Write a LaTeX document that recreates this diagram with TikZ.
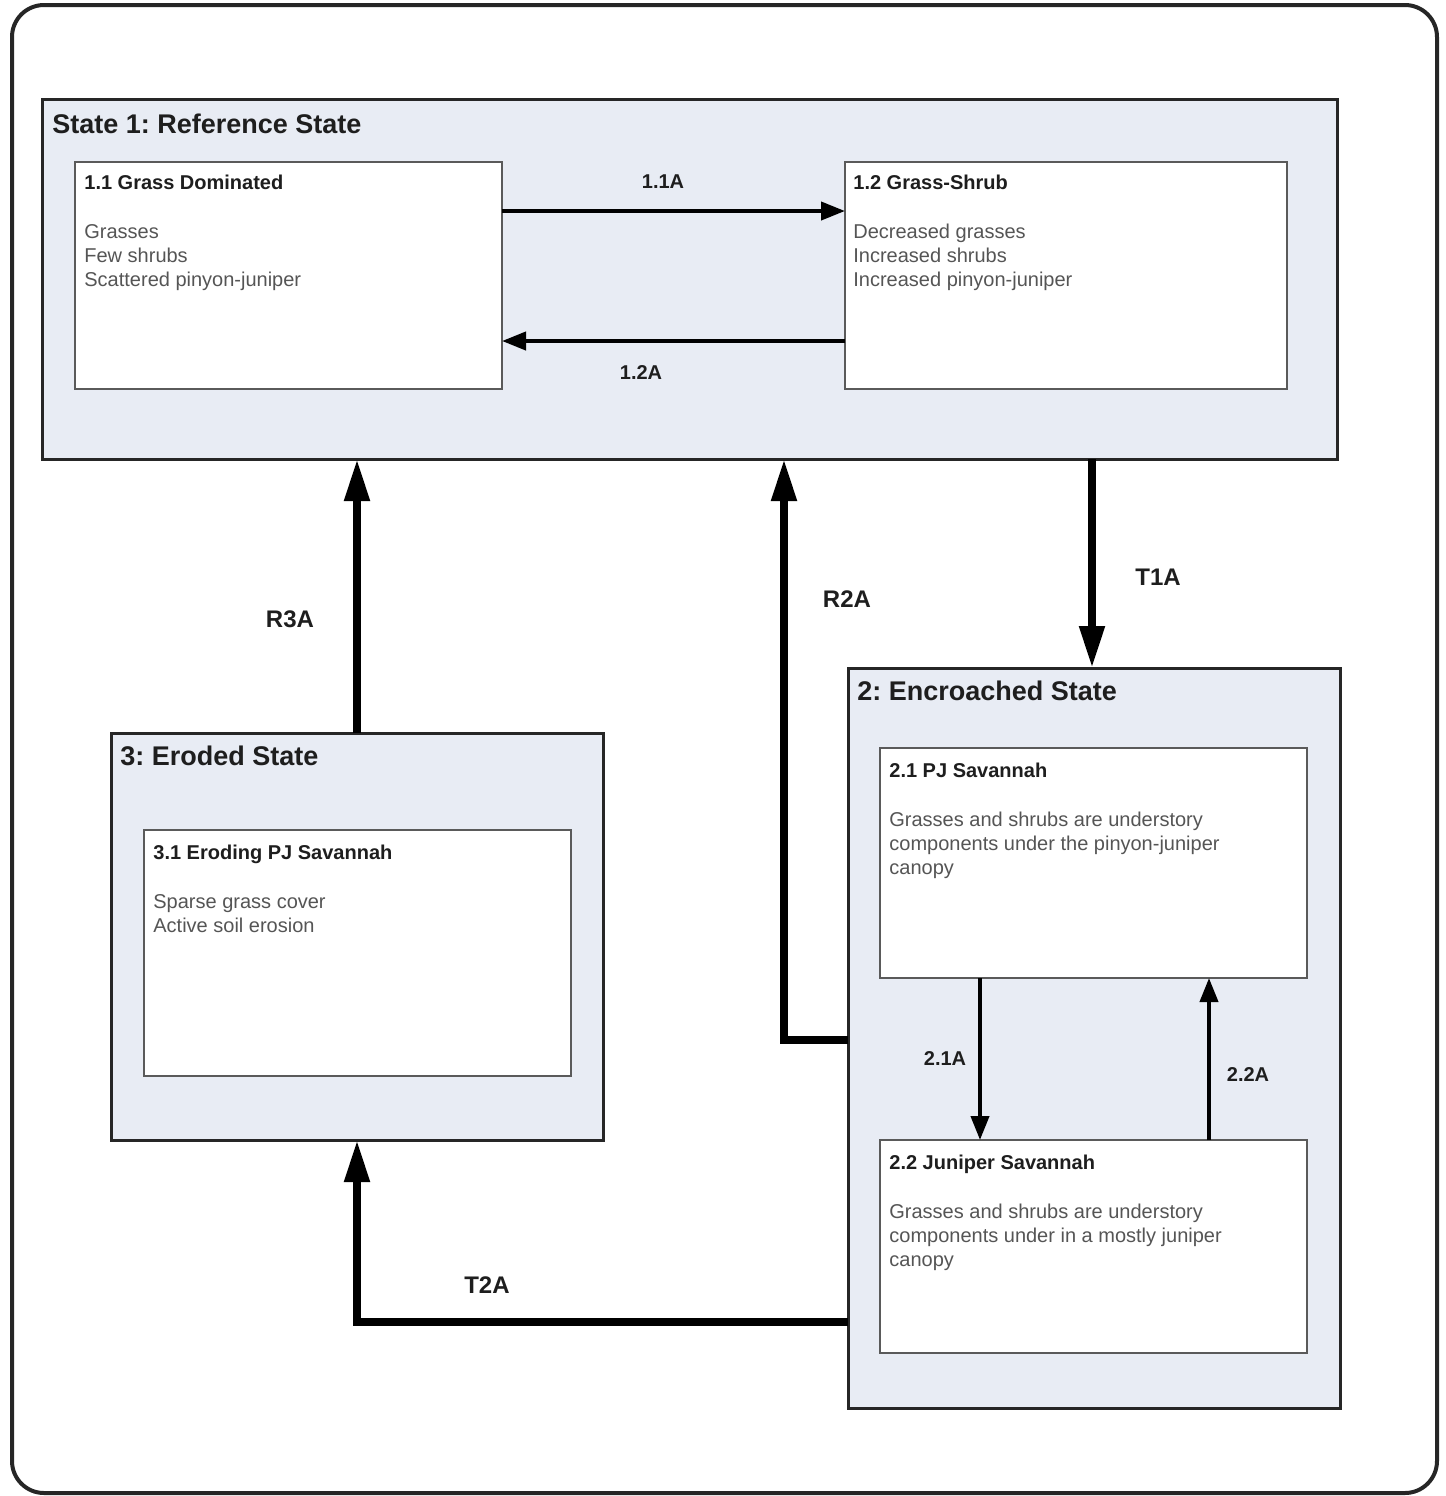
\documentclass[tikz,border=0pt]{standalone}
\usepackage{fontspec}
\setmainfont{Liberation Sans}
\usetikzlibrary{arrows.meta,calc}
\definecolor{statefill}{RGB}{232,236,244}
\definecolor{bodygrey}{RGB}{85,85,85}
\definecolor{titlegrey}{RGB}{30,30,30}
\definecolor{boxedge}{RGB}{90,90,90}
\frenchspacing
\begin{document}
\begin{tikzpicture}[x=0.5pt,y=-0.5pt,
  statebox/.style={draw=black!85,line width=1.5pt,fill=statefill,anchor=north west,inner sep=0pt,outer sep=0pt},
  phasebox/.style={draw=boxedge,line width=1pt,fill=white,anchor=north west,inner sep=0pt,outer sep=0pt},
  statetitle/.style={anchor=base west,inner sep=0pt,font=\fontsize{13.5}{16}\selectfont\bfseries,text=titlegrey},
  phasetitle/.style={anchor=base west,inner sep=0pt,font=\fontsize{10}{12}\selectfont\bfseries,text=titlegrey},
  phasebody/.style={anchor=north west,inner sep=0pt,align=left,font=\fontsize{10}{12}\selectfont,text=bodygrey},
  smalllabel/.style={inner sep=0pt,font=\fontsize{10}{12}\selectfont\bfseries,text=titlegrey},
  biglabel/.style={inner sep=0pt,font=\fontsize{12}{14}\selectfont\bfseries,text=titlegrey},
  thinarrow/.style={line width=2pt,-{Triangle[length=12pt,width=9pt]}},
  thickarrow/.style={line width=4pt,line join=miter,-{Triangle[length=21pt,width=12pt]}}
]
\useasboundingbox (0,0) rectangle (1446,1496);
% outer frame
\draw[line width=2pt,draw=black!85,rounded corners=16pt] (12,5) rectangle (1437,1493);

% State 1
\node[statebox,minimum width=647.5pt,minimum height=180pt] (s1) at (42,99) {};
\node[statetitle] (s1t) at (52,133) {State 1: Reference State};
\node[phasebox,minimum width=213.5pt,minimum height=113.5pt] (b11) at (75,162) {};
\node[phasetitle] (b11t) at (84,189) {1.1 Grass Dominated};
\node[phasebody] (b11b) at (84,224) {Grasses\\Few shrubs\\Scattered pinyon-juniper};
\node[phasebox,minimum width=221pt,minimum height=113.5pt] (b12) at (845,162) {};
\node[phasetitle] (b12t) at (853,189) {1.2 Grass-Shrub};
\node[phasebody] (b12b) at (853,224) {Decreased grasses\\Increased shrubs\\Increased pinyon-juniper};

% State 2
\node[statebox,minimum width=246pt,minimum height=370pt] (s2) at (848,668) {};
\node[statetitle] (s2t) at (857,700) {2: Encroached State};
\node[phasebox,minimum width=213.5pt,minimum height=115pt] (b21) at (880,748) {};
\node[phasetitle] (b21t) at (889,777) {2.1 PJ Savannah};
\node[phasebody] (b21b) at (889,812) {Grasses and shrubs are understory\\components under the pinyon-juniper\\canopy};
\node[phasebox,minimum width=213.5pt,minimum height=106.5pt] (b22) at (880,1140) {};
\node[phasetitle] (b22t) at (889,1169) {2.2 Juniper Savannah};
\node[phasebody] (b22b) at (889,1204) {Grasses and shrubs are understory\\components under in a mostly juniper\\canopy};

% State 3
\node[statebox,minimum width=246pt,minimum height=203.5pt] (s3) at (111,733) {};
\node[statetitle] (s3t) at (120,765) {3: Eroded State};
\node[phasebox,minimum width=213.5pt,minimum height=123pt] (b31) at (144,830) {};
\node[phasetitle] (b31t) at (153,859) {3.1 Eroding PJ Savannah};
\node[phasebody] (b31b) at (153,894) {Sparse grass cover\\Active soil erosion};

% helper coordinates
\coordinate (a11) at (0,211);
\coordinate (a12) at (0,341);
\coordinate (a21) at (980,0);
\coordinate (a22) at (1209,0);
\coordinate (t1a) at (1092,0);
\coordinate (r2a) at (784,1040);
\coordinate (t2a) at (357,1322);

% within-state arrows
\draw[thinarrow] (b11.east |- a11) -- (b12.west |- a11);
\draw[thinarrow] (b12.west |- a12) -- (b11.east |- a12);
\draw[thinarrow] (b21.south -| a21) -- (b22.north -| a21);
\draw[thinarrow] (b22.north -| a22) -- (b21.south -| a22);

% between-state arrows
\draw[thickarrow] (s3.north) -- (s3.north |- s1.south);
\draw[thickarrow] (s2.west |- r2a) -- (r2a) -- (r2a |- s1.south);
\draw[thickarrow] (t1a |- s1.south) -- (t1a |- s2.north);
\draw[thickarrow] (s2.west |- t2a) -- (t2a) -- (s3.south);

% labels
\node[smalllabel] (l11) at (663,182) {1.1A};
\node[smalllabel] (l12) at (641,373) {1.2A};
\node[smalllabel] (l21) at (945,1058) {2.1A};
\node[smalllabel] (l22) at (1248,1075) {2.2A};
\node[biglabel] (lr3) at (290,619) {R3A};
\node[biglabel] (lr2) at (847,599) {R2A};
\node[biglabel] (lt1) at (1158,577) {T1A};
\node[biglabel] (lt2) at (487,1285) {T2A};
\end{tikzpicture}
\end{document}
